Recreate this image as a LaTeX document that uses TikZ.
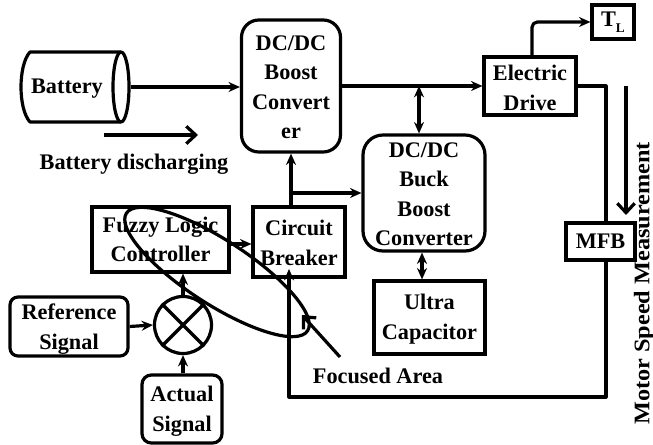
\documentclass[tikz,border=0pt]{standalone}
\usepackage{fontspec}
\setmainfont{Liberation Serif}
\usetikzlibrary{arrows.meta,shapes.geometric,calc}
\newcommand{\dnstrut}[1]{\rule{0pt}{#1}}
\tikzset{
  every node/.style={font=\fontsize{16.7}{22.2}\selectfont\bfseries, align=center, inner sep=0pt, line width=2.4pt},
  rnd/.style={draw, rectangle, rounded corners=#1},
  wire/.style={line width=2.4pt, line join=round},
  arr/.style={wire, -{Stealth[length=8.5pt,width=7.5pt]}},
  biarr/.style={wire, {Stealth[length=8.5pt,width=7.5pt]}-{Stealth[length=8.5pt,width=7.5pt]}},
  openarr/.style={wire, -{Straight Barb[length=7pt,width=13pt,line width=2.4pt]}},
}
\begin{document}
\begin{tikzpicture}[x=0.75pt,y=-0.75pt]
\useasboundingbox (0,0) rectangle (653,445);
% battery
\node[minimum width=80.25pt,minimum height=52.5pt] (bat) at (75.5,87) {};
\node (battxt) at (67,89) {Battery};
\draw[wire] (121,52) -- (30,52) .. controls (18,65) and (18,109) .. (30,122) -- (121,122);
\draw[wire] (121,87) ellipse [x radius=8, y radius=35];
% blocks
\node[rnd=13pt,minimum width=74.25pt,minimum height=99pt] (boost) at (291,86) {\dnstrut{13pt}DC/DC\\Boost\\Convert\\er};
\node[rnd=15pt,minimum width=91.5pt,minimum height=87pt] (buck) at (424,193) {\dnstrut{13pt}DC/DC\\Buck\\Boost\\Converter};
\node[draw,minimum width=102.75pt,minimum height=48.75pt] (fuzzy) at (160.5,239.5) {Fuzzy Logic\\Controller};
\node[draw,minimum width=69pt,minimum height=52.5pt] (breaker) at (299,242) {\dnstrut{13pt}Circuit\\Breaker};
\node[rnd=6pt,minimum width=88.5pt,minimum height=44.25pt] (ref) at (69,326.5) {\dnstrut{16pt}Reference\\Signal};
\node[draw,circle,minimum size=42.75pt] (sum) at (183,325) {};
\draw[wire] (sum.45) -- (sum.225) (sum.135) -- (sum.315);
\node[rnd=7pt,minimum width=60pt,minimum height=51pt] (act) at (182,409) {\dnstrut{15pt}Actual\\Signal};
\node[draw,minimum width=83.25pt,minimum height=54.75pt] (ultra) at (429.5,317.5) {\dnstrut{14pt}Ultra\\Capacitor};
\node[draw,minimum width=69pt,minimum height=43.5pt] (drive) at (530,86) {\dnstrut{14pt}Electric\\Drive};
\node[draw,minimum width=31.5pt,minimum height=25.5pt] (tl) at (613,22) {T\raisebox{-0.28em}{\fontsize{10}{10}\selectfont L}};
\node[draw,minimum width=51.75pt,minimum height=27.75pt] (mfb) at (600.5,241.5) {MFB};
% free labels
\node (bd) at (134,164) {Battery discharging};
\node (fa) at (378,376) {Focused Area};
\node[rotate=90] (ms) at (644,283.5) {\scalebox{1.09}[1]{Motor Speed Measurement}};
% connectors
\draw[arr] (bat.east) -- (bat.east -| boost.west);
\coordinate (a1) at (104,135); \coordinate (a2) at (198,135);
\draw[openarr] (a1) -- (a2);
\draw[arr] (ref.east) -- (sum.west);
\draw[arr] (act.north -| sum) -- (sum.south);
\draw[arr] (sum.north) -- (sum.north |- fuzzy.south);
\coordinate (fb) at (229,244);
\draw[arr] (fb) -- (fb -| breaker.west);
\coordinate (j2) at (291,193);
\draw[arr] (j2 |- breaker.north) -- (j2 |- boost.south);
\draw[arr] (j2) -- (j2 -| buck.west);
\draw[arr] (boost.east) -- (drive.west);
\coordinate (j1) at (419,86);
\draw[biarr] (j1) -- (j1 |- buck.north);
\coordinate (j3) at (422,251);
\draw[biarr] (j3 |- buck.south) -- (j3 |- ultra.north);
\coordinate (dt) at (532,57);
\draw[arr, rounded corners=4pt] (dt) |- (tl.west);
\coordinate (dr) at (606,86);
\draw[wire] (drive.east) -- (dr) -- (dr |- mfb.north);
\coordinate (c1) at (606,397);
\coordinate (bt) at (289,269);
\draw[arr] (dr |- mfb.south) -- (c1) -- (bt |- c1) -- (bt);
\coordinate (s1) at (626,86); \coordinate (s2) at (626,215);
\draw[openarr] (s1) -- (s2);
% focused area
\node[draw,ellipse,rotate=-33,minimum width=162pt,minimum height=48pt] (foc) at (217,272) {};
\coordinate (p1) at (340,357); \coordinate (p2) at (302,315);
\draw[openarr] (p1) -- (p2);
\end{tikzpicture}
\end{document}
